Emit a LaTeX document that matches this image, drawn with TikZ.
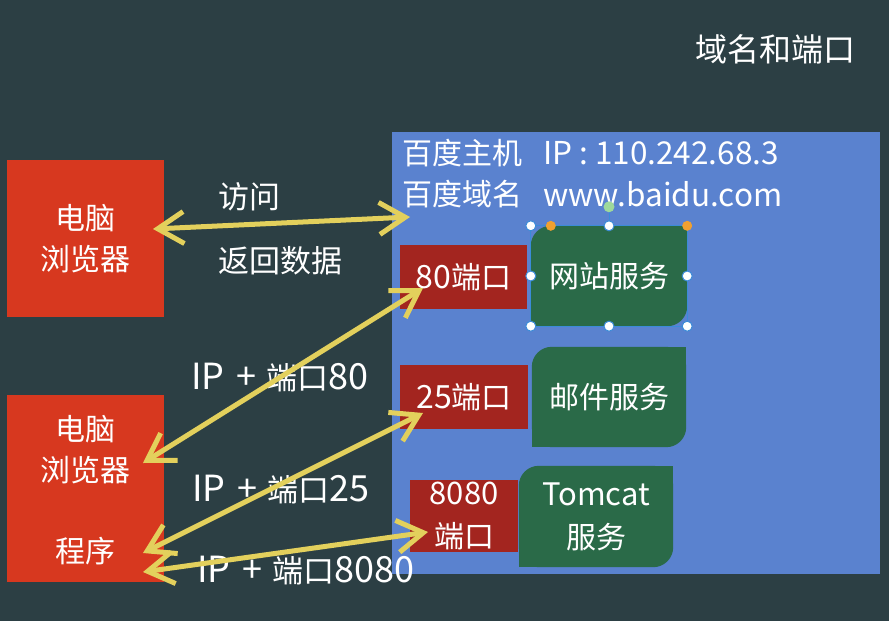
\documentclass[tikz,border=0pt]{standalone}
\usepackage{fontspec}
\setmainfont{Noto Sans CJK SC}
\usetikzlibrary{arrows.meta,calc,backgrounds}
\definecolor{bg}{HTML}{2C3F44}
\definecolor{cblue}{HTML}{5A82CF}
\definecolor{cred}{HTML}{D7381F}
\definecolor{cport}{HTML}{A3251F}
\definecolor{cgreen}{HTML}{2A6A48}
\definecolor{cyellow}{HTML}{E3D05C}
\definecolor{selblue}{HTML}{3B8BD8}
\definecolor{horange}{HTML}{F0A030}
\definecolor{hgreen}{HTML}{9FD99A}
\newcommand{\latsz}[2]{{\fontsize{#1}{#1}\selectfont #2}}
\begin{document}
\begin{tikzpicture}[x=1pt,y=-1pt,
  txt/.style={text=white,inner sep=0pt,font=\fontsize{30}{41}\selectfont,align=center},
  lbl/.style={text=white,inner sep=0pt,font=\fontsize{31}{41}\selectfont,align=center},
  redbox/.style={fill=cred,draw=none,inner sep=0pt,text=white,font=\fontsize{30}{41}\selectfont,align=center},
  portbox/.style={fill=cport,draw=none,inner sep=0pt,text=white,font=\fontsize{30}{43}\selectfont,align=center},
  svcbox/.style={draw=none,inner sep=0pt,text=white,font=\fontsize{30}{43}\selectfont,align=center},
  arr/.style={{Straight Barb[length=26pt,width=32pt]}-{Straight Barb[length=26pt,width=32pt]},line width=5pt,draw=cyellow},
  handle/.style={circle,fill=white,draw=selblue,line width=1pt,inner sep=0pt,minimum size=10pt},
  ohandle/.style={circle,fill=horange,draw=none,inner sep=0pt,minimum size=10pt},
  rhandle/.style={circle,fill=hgreen,draw=none,inner sep=0pt,minimum size=11pt}]
\useasboundingbox (0,0) rectangle (889,621);

% title
\node[txt,font=\fontsize{32}{40}\selectfont] (title) at (775,49) {域名和端口};

% host area
\node[draw=none,minimum width=488pt,minimum height=442pt,inner sep=0pt] (host) at (636,353) {};
\node[txt,anchor=west] (hostl1) at (402,153) {百度主机};
\node[txt,anchor=west] (hostv1) at (543,153) {\latsz{31.5}{IP : 110.242.68.3}};
\node[txt,anchor=west] (hostl2) at (402,194) {百度域名};
\node[txt,anchor=west] (hostv2) at (543,194) {\latsz{31.5}{www.baidu.com}};

% ports
\node[portbox,minimum width=127pt,minimum height=64pt] (p80) at (463.5,277) {\latsz{32}{80}端口};
\node[portbox,minimum width=128pt,minimum height=64pt] (p25) at (464,397) {\latsz{32}{25}端口};
\node[portbox,minimum width=108pt,minimum height=72pt] (p8080) at (464,516) {\latsz{31}{8080}\\端口};

% services
\node[svcbox,minimum width=156pt,minimum height=100pt] (web) at (609,276) {网站服务};
\node[svcbox,minimum width=154pt,minimum height=100pt] (mail) at (609,397) {邮件服务};
\node[svcbox,minimum width=154pt,minimum height=101pt] (tomcat) at (596,516.5) {\latsz{31}{Tomcat}\\服务};

\begin{scope}[on background layer]
  \fill[bg] (0,0) rectangle (889,621);
  \fill[cblue] (host.north west) rectangle (host.south east);
  \foreach \b in {web,mail,tomcat}{
    \fill[cgreen,rounded corners=20pt] (\b.north west) rectangle (\b.south east);
    \fill[cgreen] (\b.north east) rectangle ++(-22,22);
    \fill[cgreen] (\b.south west) rectangle ++(22,-22);
  }
\end{scope}

% selection handles on web service box
\draw[selblue,line width=0.8pt] (web.north west) rectangle (web.south east);
\draw[selblue,line width=0.8pt] (web.north) -- ++(0,-19) coordinate (rot);
\node[rhandle] (hr) at (rot) {};
\foreach \a in {north west,north,west,east,south west,south,south east}{
  \node[handle] at (web.\a) {};
}
\node[ohandle] (ho1) at ($(web.north west)+(20,0)$) {};
\node[ohandle] (ho2) at (web.north east) {};

% clients
\node[redbox,minimum width=157pt,minimum height=157pt] (b1) at (85.5,238.5) {电脑\\浏览器};
\node[redbox,minimum width=157pt,minimum height=187pt] (b2) at (85.5,488.5) {};
\node[txt] (b2a) at (85,450) {电脑\\浏览器};
\node[txt] (b2b) at (85,551) {程序};

% labels
\node[lbl,anchor=west] (l1) at (218,197) {访问};
\node[lbl,anchor=west] (l2) at (218,261) {返回数据};
\node[lbl,anchor=west] (l3) at (191,378) {\latsz{36}{IP\hspace{12pt}+\hspace{10pt}}端口\latsz{36}{80}};
\node[lbl,anchor=west] (l4) at (192,490) {\latsz{36}{IP\hspace{12pt}+\hspace{10pt}}端口\latsz{36}{25}};
\node[lbl,anchor=west] (l5) at (197,571) {\latsz{36}{IP\hspace{12pt}+\hspace{10pt}}端口\latsz{36}{8080}};

% arrow end points
\coordinate (a1s) at (153,229);
\coordinate (a1e) at (410,217);
\coordinate (a2s) at (143,463);
\coordinate (a2e) at (423,288);
\coordinate (a3s) at (143,553);
\coordinate (a3e) at (423,413);
\coordinate (a4s) at (143,572);
\coordinate (a4e) at (428,532);

\draw[arr] (a1s) -- (a1e);
\draw[arr] (a2s) -- (a2e);
\draw[arr] (a3s) -- (a3e);
\draw[arr] (a4s) -- (a4e);
\end{tikzpicture}
\end{document}
